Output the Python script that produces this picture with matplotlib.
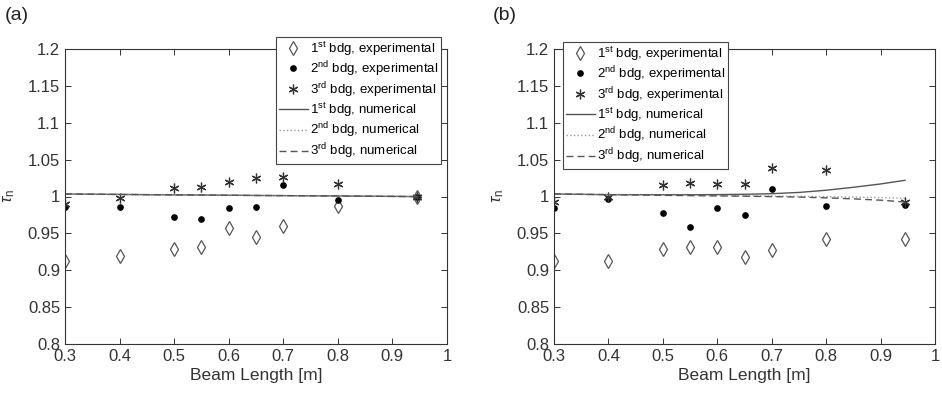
import matplotlib
matplotlib.use("Agg")
import matplotlib.pyplot as plt

plt.rcParams['font.family'] = ['Liberation Sans', 'DejaVu Sans']
plt.rcParams['mathtext.fontset'] = 'custom'
plt.rcParams['mathtext.rm'] = 'Liberation Sans'
plt.rcParams['mathtext.it'] = 'Liberation Sans:italic'

beam_length = [0.3, 0.4, 0.5, 0.55, 0.6, 0.65, 0.7, 0.8, 0.945]

# Panel (a)
a_exp1 = [0.913, 0.919, 0.929, 0.932, 0.957, 0.945, 0.960, 0.987, 0.999]
a_exp2 = [0.986, 0.986, 0.972, 0.969, 0.984, 0.986, 1.016, 0.995, 1.000]
a_exp3 = [0.990, 0.998, 1.011, 1.013, 1.020, 1.025, 1.027, 1.017, 0.999]
a_num1 = [1.0034, 1.0028, 1.0022, 1.0020, 1.0017, 1.0014, 1.0012, 1.0007, 0.9999]
a_num2 = [1.0034, 1.0028, 1.0022, 1.0020, 1.0017, 1.0014, 1.0012, 1.0007, 0.9999]
a_num3 = [1.0034, 1.0028, 1.0022, 1.0020, 1.0017, 1.0014, 1.0012, 1.0007, 0.9999]

# Panel (b)
num_x_b = [0.3, 0.4, 0.5, 0.55, 0.6, 0.65, 0.7, 0.75, 0.8, 0.85, 0.9, 0.945]
b_exp1 = [0.913, 0.913, 0.929, 0.932, 0.932, 0.918, 0.928, 0.942, 0.942]
b_exp2 = [0.984, 0.996, 0.978, 0.958, 0.984, 0.975, 1.010, 0.987, 0.989]
b_exp3 = [0.993, 1.000, 1.016, 1.018, 1.017, 1.017, 1.038, 1.036, 0.993]
b_num1 = [1.0034, 1.0025, 1.0024, 1.0024, 1.0026, 1.0030, 1.0038, 1.0055, 1.0085, 1.0125, 1.0170, 1.0220]
b_num2 = [1.0034, 1.0025, 1.0018, 1.0015, 1.0012, 1.0009, 1.0006, 1.0002, 0.9998, 0.9992, 0.9985, 0.9975]
b_num3 = [1.0034, 1.0025, 1.0016, 1.0012, 1.0008, 1.0004, 0.9999, 0.9992, 0.9982, 0.9968, 0.9950, 0.9925]

labels = [r'1$^{\mathrm{st}}$ bdg, experimental',
          r'2$^{\mathrm{nd}}$ bdg, experimental',
          r'3$^{\mathrm{rd}}$ bdg, experimental',
          r'1$^{\mathrm{st}}$ bdg, numerical',
          r'2$^{\mathrm{nd}}$ bdg, numerical',
          r'3$^{\mathrm{rd}}$ bdg, numerical']

fig = plt.figure(figsize=(9.42, 3.96), dpi=100)
W, H = 942, 396
axA = fig.add_axes([65 / W, 1 - 344 / H, 382 / W, 295 / H])
axB = fig.add_axes([554 / W, 1 - 344 / H, 381 / W, 295 / H])


def draw(ax, x, e1, e2, e3, nx, n1, n2, n3, leg_bbox):
    h1, = ax.plot(x, e1, linestyle='none', marker='d', markersize=7.5,
                  markerfacecolor='white', markeredgecolor='#555555', markeredgewidth=0.9)
    h2, = ax.plot(x, e2, linestyle='none', marker='o', markersize=3.8,
                  color='black')
    h3, = ax.plot(x, e3, linestyle='none', marker=(6, 2, 0), markersize=7,
                  color='#333333', markeredgewidth=0.9)
    l1, = ax.plot(nx, n1, '-', color='#555555', lw=1.0)
    l2, = ax.plot(nx, n2, ':', color='#999999', lw=1.0)
    l3, = ax.plot(nx, n3, '--', color='#555555', lw=1.0, dashes=(5, 3))
    ax.set_xlim(0.3, 1.0)
    ax.set_ylim(0.8, 1.2)
    ax.set_xticks([0.3, 0.4, 0.5, 0.6, 0.7, 0.8, 0.9, 1.0])
    ax.set_xticklabels(['0.3', '0.4', '0.5', '0.6', '0.7', '0.8', '0.9', '1'])
    ax.set_yticks([0.8, 0.85, 0.9, 0.95, 1.0, 1.05, 1.1, 1.15, 1.2])
    ax.set_yticklabels(['0.8', '0.85', '0.9', '0.95', '1', '1.05', '1.1', '1.15', '1.2'])
    ax.tick_params(direction='in', top=True, right=True, labelsize=12,
                   colors='#333333', length=4, width=0.7)
    for s in ax.spines.values():
        s.set_color('#333333')
        s.set_linewidth(0.8)
    ax.set_xlabel('Beam Length [m]', fontsize=12.5, color='#333333', labelpad=3)
    ax.set_ylabel(r'$\tau_{\mathrm{n}}$', fontsize=12, color='#333333', labelpad=8)
    leg = ax.legend([h1, h2, h3, l1, l2, l3], labels, loc='upper left',
                    bbox_to_anchor=leg_bbox, fontsize=9.5, frameon=True,
                    fancybox=False, edgecolor='#444444', framealpha=1,
                    handlelength=2.2, handletextpad=0.2, borderpad=0.2,
                    labelspacing=0.1, borderaxespad=0)
    leg.get_frame().set_linewidth(0.8)
    leg.set_zorder(5)

draw(axA, beam_length, a_exp1, a_exp2, a_exp3, beam_length, a_num1, a_num2, a_num3, (0.552, 1.041))
draw(axB, beam_length, b_exp1, b_exp2, b_exp3, num_x_b, b_num1, b_num2, b_num3, (0.024, 1.024))

fig.text(5 / W, 1 - 16 / H, '(a)', fontsize=14, va='center', ha='left', color='#222222')
fig.text(493 / W, 1 - 16 / H, '(b)', fontsize=14, va='center', ha='left', color='#222222')

fig.savefig('out.png', dpi=100)
